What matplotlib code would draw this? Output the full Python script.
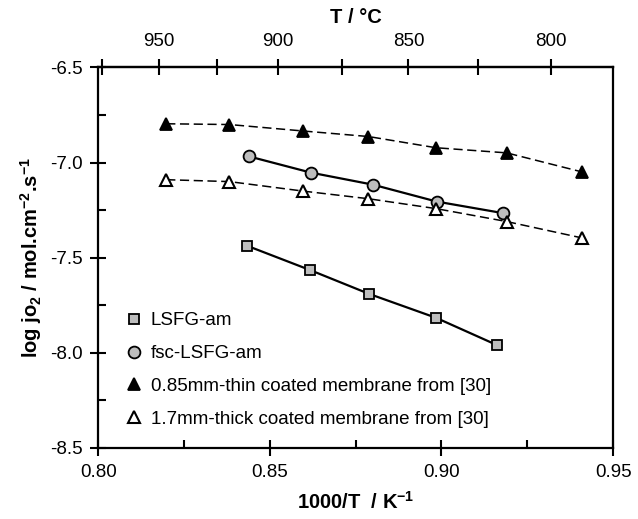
import matplotlib
matplotlib.use("Agg")
import matplotlib.pyplot as plt
from matplotlib.ticker import FixedLocator, FuncFormatter

plt.rcParams['font.family'] = ['Liberation Sans', 'DejaVu Sans']
plt.rcParams['axes.unicode_minus'] = False
plt.rcParams['mathtext.fontset'] = 'custom'
plt.rcParams['mathtext.rm'] = 'Liberation Sans'
plt.rcParams['mathtext.bf'] = 'Liberation Sans:bold'

# ---- data ----
lsfg_x = [0.8433, 0.8617, 0.8790, 0.8984, 0.9161]
lsfg_y = [-7.437, -7.565, -7.691, -7.816, -7.959]

fsc_x = [0.8440, 0.8620, 0.8800, 0.8986, 0.9180]
fsc_y = [-6.968, -7.053, -7.116, -7.205, -7.266]

ref_x = [0.8198, 0.8382, 0.8597, 0.8787, 0.8984, 0.9190, 0.9409]
thin_y = [-6.796, -6.800, -6.834, -6.863, -6.922, -6.949, -7.049]
thick_y = [-7.090, -7.100, -7.150, -7.190, -7.242, -7.310, -7.396]

labels = ["LSFG-am", "fsc-LSFG-am",
          "0.85mm-thin coated membrane from [30]",
          "1.7mm-thick coated membrane from [30]"]

x_ticks = [0.80, 0.85, 0.90, 0.95]
y_ticks = [-6.5, -7.0, -7.5, -8.0, -8.5]
t_ticks = [950, 900, 850, 800]
t_minor = [975, 925, 875, 825]

# ---- figure ----
fig = plt.figure(figsize=(6.38, 5.19), dpi=100)
ax = fig.add_axes([0.154, 0.137, 0.807, 0.733])

gray = '#bdbdbd'
ax.plot(lsfg_x, lsfg_y, '-', color='black', lw=1.6, zorder=2)
ax.plot(fsc_x, fsc_y, '-', color='black', lw=1.6, zorder=2)
ax.plot(ref_x, thin_y, '--', color='black', lw=1.1, dashes=(6, 3), zorder=2)
ax.plot(ref_x, thick_y, '--', color='black', lw=1.1, dashes=(6, 3), zorder=2)

h1 = ax.plot(lsfg_x, lsfg_y, 's', ms=7, mfc=gray, mec='black', mew=1.3, ls='none', label=labels[0], zorder=3)[0]
h2 = ax.plot(fsc_x, fsc_y, 'o', ms=8.5, mfc=gray, mec='black', mew=1.3, ls='none', label=labels[1], zorder=3)[0]
h3 = ax.plot(ref_x, thin_y, '^', ms=9, mfc='black', mec='black', mew=1.3, ls='none', label=labels[2], zorder=3)[0]
h4 = ax.plot(ref_x, thick_y, '^', ms=9, mfc='white', mec='black', mew=1.5, ls='none', label=labels[3], zorder=3)[0]

ax.set_xlim(0.80, 0.95)
ax.set_ylim(-8.5, -6.5)
ax.set_xticks(x_ticks)
ax.set_xticks([0.825, 0.875, 0.925], minor=True)
ax.set_yticks(y_ticks)
ax.set_yticks([-6.75, -7.25, -7.75, -8.25], minor=True)
ax.xaxis.set_major_formatter(FuncFormatter(lambda v, p: f"{v:.2f}"))
ax.yaxis.set_major_formatter(FuncFormatter(lambda v, p: f"{v:.1f}"))

for s in ax.spines.values():
    s.set_linewidth(1.6)

ax.tick_params(which='major', direction='inout', length=11, width=1.5, labelsize=13.5, pad=6)
ax.tick_params(which='minor', direction='in', length=6, width=1.5)
ax.tick_params(top=False, right=False, which='both')

sec = ax.secondary_xaxis('top', functions=(lambda x: 1000.0 / x - 273.15,
                                           lambda t: 1000.0 / (t + 273.15)))
sec.xaxis.set_major_locator(FixedLocator(t_ticks))
sec.xaxis.set_minor_locator(FixedLocator(t_minor))
sec.xaxis.set_major_formatter(FuncFormatter(lambda v, p: f"{v:.0f}"))
sec.tick_params(which='both', direction='inout', length=11, width=1.5, labelsize=13.5, pad=7)
sec.spines['top'].set_linewidth(1.6)
sec.set_xlabel("T / °C", fontsize=14.5, fontweight='bold', labelpad=7)

ax.set_xlabel(r"1000/T  / K$^\mathbf{-1}$", fontsize=14.5, fontweight='bold')
ax.xaxis.set_label_coords(0.5, -0.112)
ax.set_ylabel(r"log jo$_\mathbf{2}$ / mol.cm$^\mathbf{-2}$.s$^\mathbf{-1}$", fontsize=14.5, fontweight='bold')
ax.yaxis.set_label_coords(-0.105, 0.5)

ax.legend(handles=[h1, h2, h3, h4], loc='upper left', bbox_to_anchor=(0.055, 0.357),
          frameon=False, fontsize=13.5, handlelength=0.8, handletextpad=0.5,
          labelspacing=0.84, borderpad=0, borderaxespad=0)

fig.savefig("out.png", dpi=100)
